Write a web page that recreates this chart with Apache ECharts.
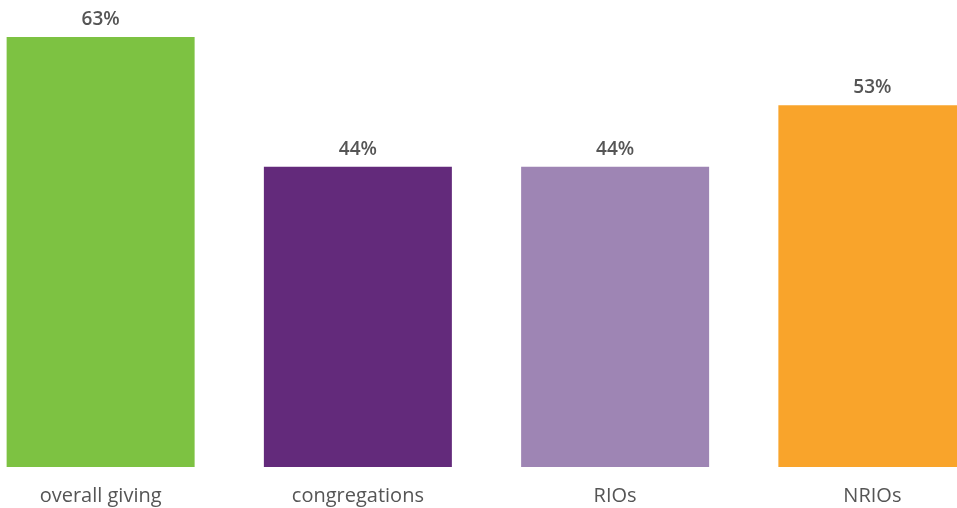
<!DOCTYPE html>
<html><head><meta charset="utf-8">
<script src="https://cdn.jsdelivr.net/npm/echarts@6/dist/echarts.min.js"></script>
<style>html,body{margin:0;padding:0;background:#fff}#c{width:957px;height:508px}</style>
</head><body><div id="c"></div>
<script>
const categories = ["overall giving", "congregations", "RIOs", "NRIOs"];
const values = [63, 44, 44, 53];
const colors = ["#7DC242", "#632A7B", "#9E85B4", "#F9A42B"];

const chart = echarts.init(document.getElementById('c'));
chart.setOption({
  animation: false,
  grid: { left: -28, width: 1029, top: 37, bottom: 41, containLabel: false, outerBoundsMode: 'none' },
  xAxis: {
    type: 'category', data: categories,
    axisLine: { show: false }, axisTick: { show: false },
    axisLabel: { color: '#555', fontSize: 20, fontFamily: 'Open Sans', margin: 19 }
  },
  yAxis: { type: 'value', min: 0, max: 63, show: false, splitLine: { show: false } },
  series: [{
    type: 'bar', barWidth: 188,
    data: values.map((v, i) => ({ value: v, itemStyle: { color: colors[i] } })),
    label: { show: true, position: 'top', distance: 8, formatter: '{c}%', color: '#555', fontSize: 19, fontWeight: 600, fontFamily: 'Open Sans' }
  }]
});
</script></body></html>
